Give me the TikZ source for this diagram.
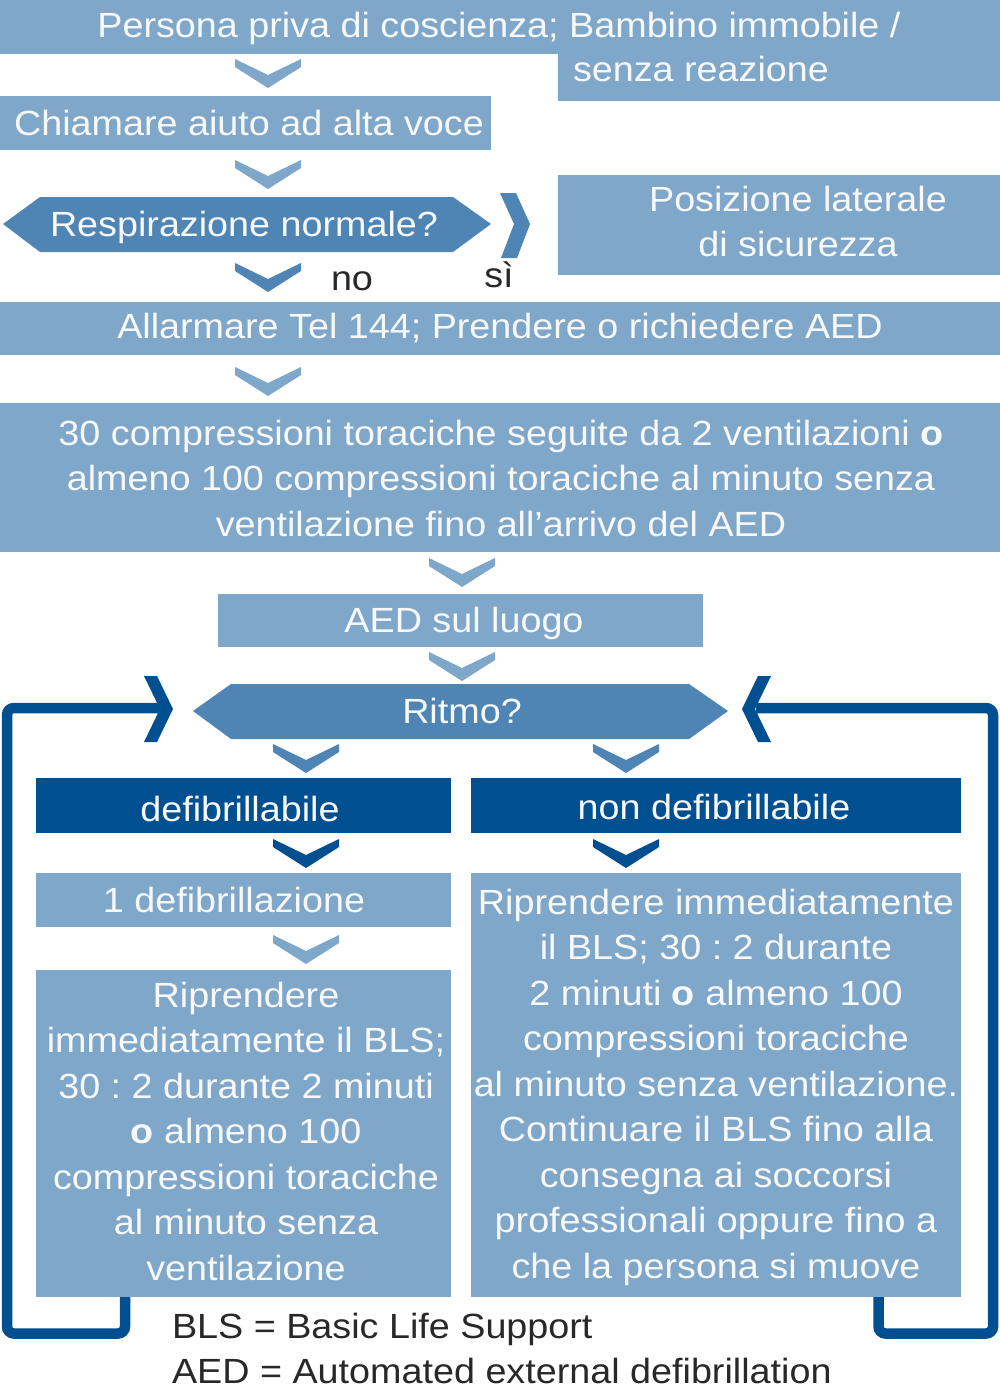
\documentclass[tikz,border=0pt]{standalone}
\usepackage{fontspec}
\setmainfont[FakeStretch=1.078]{Liberation Sans}
\frenchspacing
\definecolor{lightb}{RGB}{127,167,201}
\definecolor{midb}{RGB}{78,133,180}
\definecolor{darkb}{RGB}{0,79,145}
\definecolor{txtw}{RGB}{248,248,248}
\definecolor{txtd}{RGB}{40,40,40}
\newcommand{\bigfont}{\fontsize{35}{45.5}\selectfont}
\newcommand{\ml}[1]{\begin{tabular}[t]{@{}c@{}}#1\end{tabular}}
\tikzset{
  boxbase/.style={rectangle, inner sep=0pt, outer sep=0pt, draw=none},
  lbox/.style={boxbase, fill=lightb},
  dbox/.style={boxbase, fill=darkb},
  wtxt/.style={inner sep=0pt, outer sep=0pt, text=txtw, font=\bigfont, anchor=base},
  ktxt/.style={inner sep=0pt, outer sep=0pt, text=txtd, font=\bigfont, anchor=base},
  looppath/.style={draw=darkb, line width=10.5pt, rounded corners=7pt},
  chev/.pic={\fill (-33,0) -- (0,16) -- (33,0) -- (33,8) -- (0,29) -- (-33,8) -- cycle;}
}
\begin{document}
\begin{tikzpicture}[x=1pt, y=-1pt]
\useasboundingbox (0,0) rectangle (1000,1395);
% boxes
\node[lbox, minimum width=1000pt, minimum height=54pt] (start) at (500,27) {};
\node[lbox, minimum width=442pt, minimum height=47pt] (startb) at (779,77) {};
\node[lbox, minimum width=491pt, minimum height=54pt] (call) at (245.5,123) {};
\node[lbox, minimum width=442pt, minimum height=100pt] (side) at (779,224.5) {};
\node[lbox, minimum width=1000pt, minimum height=53pt] (alarm) at (500,328.5) {};
\node[lbox, minimum width=1000pt, minimum height=149pt] (cpr) at (500,477.5) {};
\node[lbox, minimum width=485pt, minimum height=53pt] (aed) at (460.5,620.5) {};
\node[dbox, minimum width=415pt, minimum height=55pt] (shock) at (243.5,805) {};
\node[dbox, minimum width=490pt, minimum height=55pt] (noshock) at (716,805) {};
\node[lbox, minimum width=415pt, minimum height=54pt] (one) at (243.5,900) {};
\node[lbox, minimum width=415pt, minimum height=327pt] (lres) at (243.5,1133.5) {};
\node[lbox, minimum width=490pt, minimum height=424pt] (rres) at (716,1085) {};
% hexagons
\fill[midb] (3,224) -- (40,197) -- (453,197) -- (491,224) -- (453,252) -- (40,252) -- cycle;
\fill[midb] (193,711) -- (231,684) -- (689,684) -- (728,711) -- (689,739) -- (231,739) -- cycle;
% side bracket
\fill[midb] (500,193) -- (516,193) -- (530,224) -- (517,258) -- (501,258) -- (514,224) -- cycle;
% loop connectors
\draw[looppath] (lres.south -| 125,0) -- (125,1333.5) -- (7,1333.5) -- (7,708) -- (160,708);
\draw[looppath] (rres.south -| 878.5,0) -- (878.5,1333.5) -- (993,1333.5) -- (993,708) -- (756,708);
\fill[darkb] (144,676) -- (157,676) -- (173,709) -- (157,742) -- (144,742) -- (160,709) -- cycle;
\fill[darkb] (771,676) -- (758,676) -- (742,709) -- (758,742) -- (771,742) -- (755,709) -- cycle;
% chevrons
\pic[lightb] at (268,59) {chev};
\pic[lightb] at (268,160) {chev};
\pic[midb] at (268,263) {chev};
\pic[lightb] at (268,367) {chev};
\pic[lightb] at (462,558) {chev};
\pic[lightb] at (462,652) {chev};
\pic[midb] at (306,744) {chev};
\pic[midb] at (626,744) {chev};
\pic[darkb] at (306,839) {chev};
\pic[darkb] at (626,839) {chev};
\pic[lightb] at (306,935) {chev};
% texts
\node[wtxt] (t1) at (499,37) {Persona priva di coscienza; Bambino immobile /};
\node[wtxt, anchor=base west] (t1b) at (573,81) {senza reazione};
\node[wtxt] (t2) at (249,135) {Chiamare aiuto ad alta voce};
\node[wtxt] (t3) at (244,236) {Respirazione normale?};
\node[wtxt] (t4) at (798,211) {\ml{Posizione laterale\\di sicurezza}};
\node[ktxt] (no) at (352,290) {no};
\node[ktxt] (si) at (499,287) {sì};
\node[wtxt] (t5) at (500,338) {Allarmare Tel 144; Prendere o richiedere AED};
\node[wtxt] (t6) at (501,445) {\ml{30 compressioni toraciche seguite da 2 ventilazioni \textbf{o}\\almeno 100 compressioni toraciche al minuto senza\\ventilazione fino all’arrivo del AED}};
\node[wtxt] (t7) at (464,632) {AED sul luogo};
\node[wtxt] (t8) at (462,723) {Ritmo?};
\node[wtxt] (t9) at (240,821) {defibrillabile};
\node[wtxt] (t10) at (714,819) {non defibrillabile};
\node[wtxt] (t11) at (234,912) {1 defibrillazione};
\node[wtxt] (t12) at (246,1007) {\ml{Riprendere\\immediatamente il BLS;\\30 : 2 durante 2 minuti\\\textbf{o} almeno 100\\compressioni toraciche\\al minuto senza\\ventilazione}};
\node[wtxt] (t13) at (716,914) {\ml{Riprendere immediatamente\\il BLS; 30 : 2 durante\\2 minuti \textbf{o} almeno 100\\compressioni toraciche\\al minuto senza ventilazione.\\Continuare il BLS fino alla\\consegna ai soccorsi\\professionali oppure fino a\\che la persona si muove}};
\node[ktxt, anchor=base west] (leg1) at (172,1338) {BLS = Basic Life Support};
\node[ktxt, anchor=base west] (leg2) at (172,1383) {AED = Automated external defibrillation};
\end{tikzpicture}
\end{document}
